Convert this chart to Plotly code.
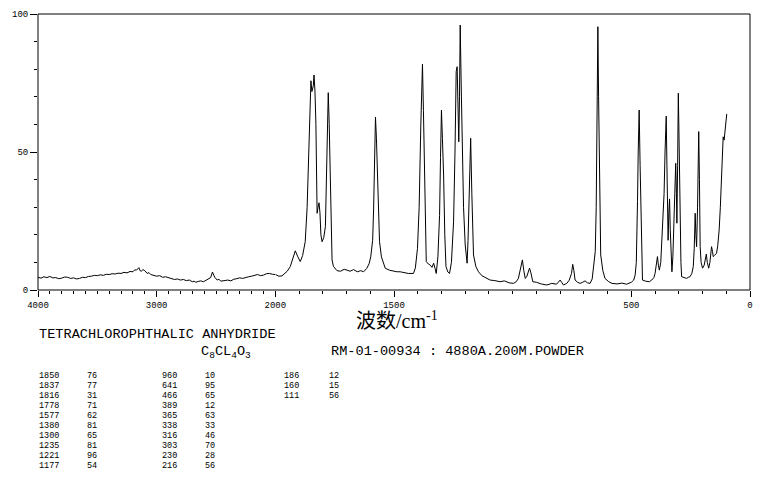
import plotly.graph_objects as go

# ---------------- data ----------------
# 4000-2000 cm-1 region (compressed scale)
wn_high = [4000, 3975, 3950, 3925, 3900, 3875, 3850, 3825, 3800, 3775, 3750, 3725, 3700, 3675, 3650,
           3625, 3600, 3575, 3550, 3525, 3500, 3475, 3450, 3425, 3400, 3375, 3350, 3325, 3300, 3275,
           3250, 3225, 3200, 3185, 3170, 3160, 3150, 3140, 3130, 3115, 3100, 3080, 3065, 3050, 3025,
           3000, 2975, 2950, 2925, 2900, 2875, 2850, 2825, 2800, 2775, 2750, 2725, 2700, 2685, 2670,
           2650, 2630, 2605, 2580, 2560, 2545, 2530, 2520, 2510, 2490, 2475, 2460, 2430, 2400, 2375,
           2350, 2325, 2300, 2275, 2250, 2225, 2200, 2175, 2150, 2125, 2100, 2075, 2050, 2025, 2000]
int_high = [4.6, 4.3, 4.8, 4.5, 4.9, 4.4, 4.5, 4.1, 4.3, 4.7, 4.6, 4.2, 4.4, 4.0, 4.2,
            4.6, 4.5, 4.9, 5.0, 5.3, 5.2, 5.5, 5.3, 5.7, 5.6, 5.9, 5.8, 6.1, 6.0, 6.4,
            6.2, 6.7, 6.6, 7.3, 7.2, 7.9, 8.1, 7.0, 6.8, 7.4, 7.0, 6.0, 6.3, 5.6, 5.4,
            5.0, 5.2, 4.6, 4.8, 4.4, 4.1, 3.8, 4.0, 3.6, 3.8, 3.4, 3.6, 3.0, 3.2, 2.8,
            3.1, 3.3, 3.0, 3.6, 3.9, 4.5, 6.5, 5.2, 4.6, 3.6, 3.9, 3.2, 3.5, 3.6, 3.3,
            3.9, 4.1, 4.4, 4.2, 4.6, 4.8, 5.0, 5.3, 5.6, 5.2, 5.4, 5.9, 6.0, 5.7, 5.6]

# 2000-0 cm-1 region
wn_low = [2000, 1985, 1972, 1960, 1950, 1937, 1925, 1916, 1905, 1895, 1885, 1874, 1866, 1860, 1855,
          1850, 1846, 1840, 1837, 1833, 1829, 1826, 1824, 1820, 1816, 1812, 1808, 1803, 1796, 1789,
          1784, 1780, 1777, 1773, 1768, 1764, 1761, 1755, 1748, 1740, 1725, 1710, 1698, 1685, 1670,
          1655, 1640, 1628, 1615, 1605, 1598, 1590, 1586, 1582, 1578, 1574, 1569, 1565, 1561, 1553,
          1545, 1537, 1520, 1505, 1488, 1474, 1455, 1440, 1418, 1410, 1401, 1394, 1387, 1383, 1380,
          1376, 1373, 1368, 1364, 1355, 1347, 1340, 1333, 1327, 1322, 1315, 1308, 1304, 1300, 1296,
          1291, 1286, 1281, 1273, 1266, 1258, 1249, 1243, 1238, 1234, 1230, 1227, 1224, 1221, 1217,
          1213, 1207, 1200, 1195, 1192, 1188, 1185, 1180, 1177, 1172, 1168, 1165, 1155, 1144, 1130,
          1115, 1095, 1075, 1053, 1035, 1015, 997, 985, 976, 968, 963, 959, 953, 947, 940,
          933, 929, 924, 915, 900, 880, 856, 835, 815, 800, 792, 786, 772, 762, 752,
          747, 742, 737, 726, 716, 705, 695, 685, 674, 665, 659, 652, 648, 645, 641,
          638, 635, 634, 631, 629, 620, 611, 595, 582, 560, 540, 520, 500, 490, 484,
          479, 476, 474, 471, 467, 463, 460, 457, 453, 440, 424, 414, 405, 400, 394,
          390, 386, 382, 376, 372, 368, 362, 358, 355, 353, 350, 347, 345, 342, 339,
          336, 333, 329, 325, 320, 318, 315, 313, 310, 308, 305, 302, 299, 295, 291,
          288, 280, 267, 260, 253, 245, 239, 235, 231, 228, 225, 221, 218, 216, 213,
          210, 206, 200, 193, 189, 184, 180, 174, 169, 165, 162, 158, 155, 150, 145,
          141, 136, 130, 125, 120, 116, 113, 109, 105, 101, 98]
int_low = [5.6, 5.0, 5.1, 6.0, 6.8, 8.5, 11.5, 14.2, 12.0, 10.3, 12.5, 17.5, 30, 47, 65,
           75.8, 71.9, 74, 77.9, 72, 60, 35, 27.8, 30, 31.6, 28, 20, 17.5, 19, 23,
           40, 62.8, 71.5, 60, 40, 20, 10.9, 8.5, 7.8, 7.0, 6.8, 7.5, 7.2, 6.8, 7.4,
           6.6, 7.0, 6.6, 7.8, 9.5, 12, 18, 29, 45, 62.6, 55, 41, 27, 17.5, 12,
           9.5, 7.9, 7.2, 6.9, 6.6, 6.6, 6.2, 6.0, 6.0, 8.0, 15.1, 30, 59.8, 75, 81.8,
           65, 47.7, 25, 10.3, 9.4, 9.0, 8.2, 9.7, 7.8, 6.0, 12, 27, 48, 65.2, 55,
           41.7, 20, 8.5, 6.5, 6.0, 10, 24.7, 50, 79.1, 80.9, 70, 53.7, 70, 96, 75,
           51.4, 30, 16.3, 11, 9.7, 18, 29.6, 45, 55, 35, 18, 12.7, 8.5, 6.6, 5.2,
           4.5, 3.6, 3.4, 3.0, 3.3, 2.6, 2.4, 3.0, 4.2, 7.9, 10, 10.9, 7, 4.2, 5,
           7.5, 7.9, 6.5, 3, 2.8, 2.2, 1.8, 2.4, 2.1, 3.6, 2.6, 1.8, 2.4, 3.5, 6,
           9.3, 7, 3.6, 2.8, 2.4, 2.8, 3.3, 2.6, 2.4, 4, 7.9, 14, 30, 60, 95.4,
           70, 45, 39, 20, 12.7, 7, 4.2, 3, 2.4, 2.2, 2.5, 2.1, 2.8, 3.6, 5.4,
           10, 20, 32, 50, 65.2, 45, 27, 10, 3.6, 3.2, 3.0, 3.6, 4.5, 6.0, 9,
           12.1, 9, 7.2, 10, 18, 27.8, 35, 50, 60, 63, 45, 22, 18, 28, 33,
           22, 12, 6.6, 12, 30, 37.4, 44, 45.9, 35, 24.2, 45, 71.3, 55, 25.4, 10,
           4.8, 4.5, 4.2, 4.6, 4.8, 6, 8.5, 15, 27.8, 20, 15.7, 30, 50, 57.4, 40,
           15.7, 10, 7.9, 9, 11, 13, 10, 7.9, 10, 13, 15.7, 14, 12.1, 12.5, 13,
           13.3, 16, 21.7, 30, 42.3, 50, 55.5, 54.3, 58, 62, 63.8]

# peak table
peak_wn = [1850, 1837, 1816, 1778, 1577, 1380, 1300, 1235, 1221, 1177,
           960, 641, 466, 389, 365, 338, 316, 303, 230, 216,
           186, 160, 111]
peak_int = [76, 77, 31, 71, 62, 81, 65, 81, 96, 54,
            10, 95, 65, 12, 63, 33, 46, 70, 28, 56,
            12, 15, 56]

xticks_high = [4000, 3000, 2000]
xticks_low = [1500, 500, 0]
yticks = [0, 50, 100]

compound = "TETRACHLOROPHTHALIC ANHYDRIDE"
formula = "C<sub>8</sub>CL<sub>4</sub>O<sub>3</sub>"
sample_info = "RM-01-00934 : 4880A.200M.POWDER"
x_title = "波数/cm<sup>-1</sup>"

# ---------------- figure ----------------
# page body has an 8px margin, so the figure is laid out 8px smaller
OFF = 8
W, H = 749, 462
L, R, T, B = 30, 7, 6, 180
PW, PH = W - L - R, H - T - B          # 712 x 276 plot area -> 38..750, 14..290 on screen
SX0, SY1 = L + OFF, T + OFF + PH        # screen position of plot-area left / bottom


def px(xp):
    return (xp - SX0) / PW


def py(yp):
    return (SY1 - yp) / PH


fig = go.Figure()
fig.add_trace(go.Scatter(x=wn_high, y=int_high, mode="lines", xaxis="x", yaxis="y",
                         line=dict(color="black", width=1), hoverinfo="x+y"))
fig.add_trace(go.Scatter(x=wn_low, y=int_low, mode="lines", xaxis="x2", yaxis="y",
                         line=dict(color="black", width=1), hoverinfo="x+y"))

tickfont = dict(family="Liberation Mono, DejaVu Sans Mono, monospace", size=9, color="black")
common_x = dict(showgrid=False, zeroline=False, showline=False, ticks="outside", ticklen=6,
                tickcolor="black", tickwidth=1, tickfont=tickfont, tickmode="array",
                anchor="y", automargin=False,
                minor=dict(ticks="outside", ticklen=3, tickcolor="black", tickwidth=1,
                           tickmode="linear", tick0=0, dtick=100))

fig.update_layout(
    width=W, height=H,
    margin=dict(l=L, r=R, t=T, b=B, autoexpand=False),
    paper_bgcolor="white", plot_bgcolor="white",
    showlegend=False,
    xaxis=dict(domain=[0, 1 / 3], range=[4000, 2000], tickvals=xticks_high,
               ticktext=[str(v) for v in xticks_high], **common_x),
    xaxis2=dict(domain=[1 / 3, 1], range=[2000, 0], tickvals=xticks_low,
                ticktext=[str(v) for v in xticks_low], **common_x),
    yaxis=dict(range=[0, 100], showgrid=False, zeroline=False, showline=False,
               ticks="outside", ticklen=7, tickcolor="black", tickwidth=1,
               tickmode="array", tickvals=yticks, ticktext=[str(v) for v in yticks],
               tickfont=tickfont, anchor="x", automargin=False,
               minor=dict(ticks="outside", ticklen=3, tickcolor="black", tickwidth=1,
                          tickmode="linear", tick0=0, dtick=10)),
    shapes=[dict(type="rect", xref="paper", yref="paper", x0=0, x1=1, y0=0, y1=1,
                 line=dict(color="black", width=1), fillcolor="rgba(0,0,0,0)")],
)

mono = "Liberation Mono, DejaVu Sans Mono, monospace"
ann = []
ann.append(dict(text=x_title, x=px(397), y=py(320), xref="paper", yref="paper",
                showarrow=False, xanchor="center", yanchor="middle",
                font=dict(family="Liberation Serif, Noto Sans CJK SC, serif", size=20, color="black")))
ann.append(dict(text=compound, x=px(37), y=py(334), xref="paper", yref="paper",
                showarrow=False, xanchor="left", yanchor="middle",
                font=dict(family=mono, size=13.6, color="black")))
ann.append(dict(text=formula, x=px(199), y=py(352), xref="paper", yref="paper",
                showarrow=False, xanchor="left", yanchor="middle",
                font=dict(family=mono, size=13.6, color="black")))
ann.append(dict(text=sample_info, x=px(329), y=py(351), xref="paper", yref="paper",
                showarrow=False, xanchor="left", yanchor="middle",
                font=dict(family=mono, size=13.6, color="black")))

col_x = [(37, 85), (160, 203), (282, 327)]
for i, (w, v) in enumerate(zip(peak_wn, peak_int)):
    c, r = divmod(i, 10)
    yy = 376 + 10 * r
    for xx, t in ((col_x[c][0], w), (col_x[c][1], v)):
        ann.append(dict(text=str(t), x=px(xx), y=py(yy), xref="paper", yref="paper",
                        showarrow=False, xanchor="left", yanchor="middle",
                        font=dict(family=mono, size=8.5, color="black")))

fig.update_layout(annotations=ann)
fig.write_html("out.html")
